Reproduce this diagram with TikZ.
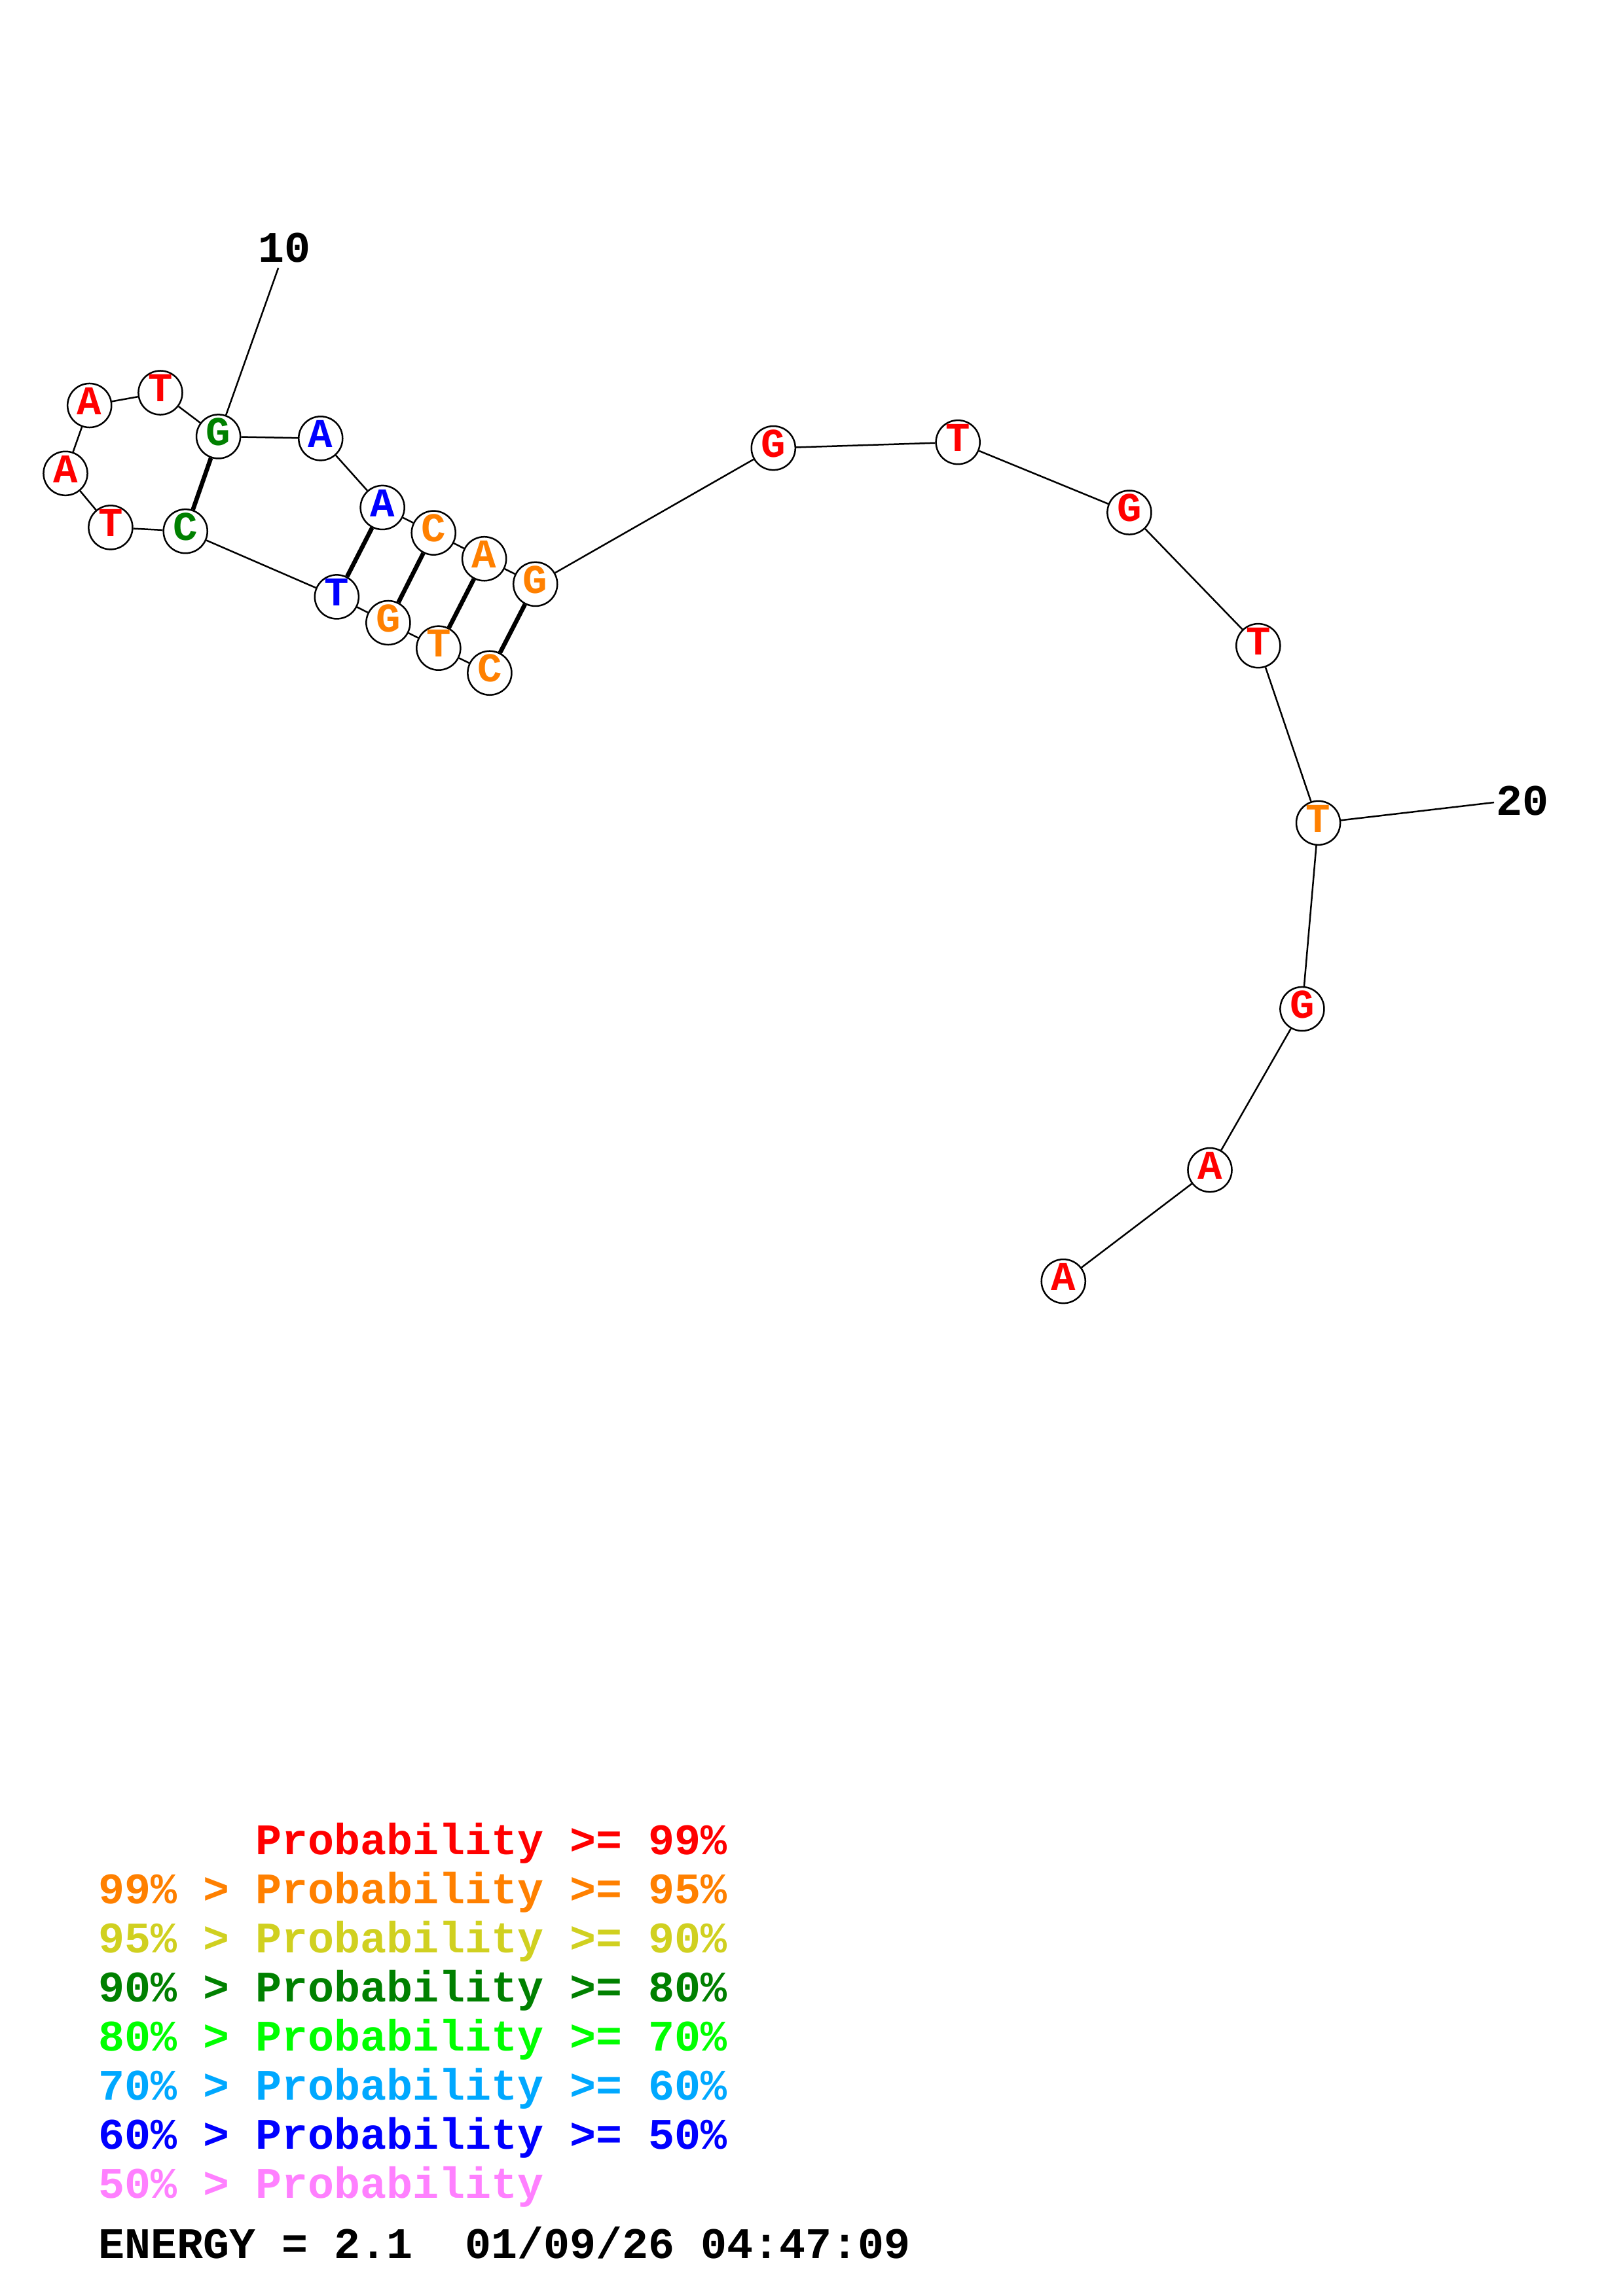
\documentclass[tikz,border=0pt]{standalone}
\usepackage{fontspec}
\setmonofont{Liberation Mono}
\usepackage{tikz}
\usetikzlibrary{positioning}
\definecolor{pred}{RGB}{255,0,0}
\definecolor{porange}{RGB}{255,128,0}
\definecolor{pyellow}{RGB}{208,208,32}
\definecolor{pdkgreen}{RGB}{0,128,0}
\definecolor{plime}{RGB}{0,255,0}
\definecolor{psky}{RGB}{0,168,255}
\definecolor{pblue}{RGB}{0,0,255}
\definecolor{ppink}{RGB}{255,128,255}

\begin{document}
\begin{tikzpicture}[x=0.537pt,y=-0.537pt,
  nt/.style={circle,draw,fill=white,line width=0.6pt,minimum size=16.1pt,inner sep=0pt,
    font=\ttfamily\bfseries\fontsize{15}{15}\selectfont,text height=0.66em,text depth=0pt},
  bb/.style={line width=0.6pt},
  bp/.style={line width=1.6pt},
  lbl/.style={inner sep=0pt,font=\ttfamily\bfseries\fontsize{16}{16}\selectfont},
  leg/.style={anchor=base west,inner sep=0pt,font=\ttfamily\bfseries\fontsize{16}{16}\selectfont}]
\useasboundingbox (0,0) rectangle (1108,1568);
\node[nt,text=porange] (b1) at (334.3,459.6) {C};
\node[nt,text=porange] (b2) at (299.4,442.6) {T};
\node[nt,text=porange] (b3) at (265,425.3) {G};
\node[nt,text=pblue] (b4) at (229.9,407.6) {T};
\node[nt,text=pdkgreen] (b5) at (126.6,362.8) {C};
\node[nt,text=pred] (b6) at (75.5,360.2) {T};
\node[nt,text=pred] (b7) at (44.7,323.3) {A};
\node[nt,text=pred] (b8) at (61.1,276.9) {A};
\node[nt,text=pred] (b9) at (109.5,268.2) {T};
\node[nt,text=pdkgreen] (b10) at (149.1,298.1) {G};
\node[nt,text=pblue] (b11) at (218.9,299.4) {A};
\node[nt,text=pblue] (b12) at (261.1,346.6) {A};
\node[nt,text=porange] (b13) at (296,363.9) {C};
\node[nt,text=porange] (b14) at (330.6,381.6) {A};
\node[nt,text=porange] (b15) at (365.5,398.9) {G};
\node[nt,text=pred] (b16) at (528,306) {G};
\node[nt,text=pred] (b17) at (654,302) {T};
\node[nt,text=pred] (b18) at (771,350) {G};
\node[nt,text=pred] (b19) at (859,441) {T};
\node[nt,text=porange] (b20) at (900,562) {T};
\node[nt,text=pred] (b21) at (889,689) {G};
\node[nt,text=pred] (b22) at (826,799) {A};
\node[nt,text=pred] (b23) at (726,875) {A};
\draw[bb] (b1) -- (b2) -- (b3) -- (b4) -- (b5) -- (b6) -- (b7) -- (b8) -- (b9) -- (b10)
  -- (b11) -- (b12) -- (b13) -- (b14) -- (b15) -- (b16) -- (b17) -- (b18) -- (b19)
  -- (b20) -- (b21) -- (b22) -- (b23);
\draw[bp] (b5) -- (b10);
\draw[bp] (b4) -- (b12);
\draw[bp] (b3) -- (b13);
\draw[bp] (b2) -- (b14);
\draw[bp] (b1) -- (b15);
\node[lbl] (l10) at (194,169) {10};
\coordinate (e10) at (190,183);
\draw[bb] (e10) -- (b10);
\node[lbl,anchor=west] (l20) at (1021,547) {20};
\coordinate (e20) at (1020,548);
\draw[bb] (e20) -- (b20);
\node[leg,text=pred] (r1) at (67,1266.5) {\phantom{99\% > }Probability >= 99\%};
\node[leg,text=porange] (r2) at (67,1300) {99\% > Probability >= 95\%};
\node[leg,text=pyellow] (r3) at (67,1333.5) {95\% > Probability >= 90\%};
\node[leg,text=pdkgreen] (r4) at (67,1367) {90\% > Probability >= 80\%};
\node[leg,text=plime] (r5) at (67,1400.5) {80\% > Probability >= 70\%};
\node[leg,text=psky] (r6) at (67,1434) {70\% > Probability >= 60\%};
\node[leg,text=pblue] (r7) at (67,1467.5) {60\% > Probability >= 50\%};
\node[leg,text=ppink] (r8) at (67,1501) {50\% > Probability};
\node[leg] (en) at (67,1542.5) {ENERGY = 2.1\ \ 01/09/26 04:47:09};
\end{tikzpicture}
\end{document}
